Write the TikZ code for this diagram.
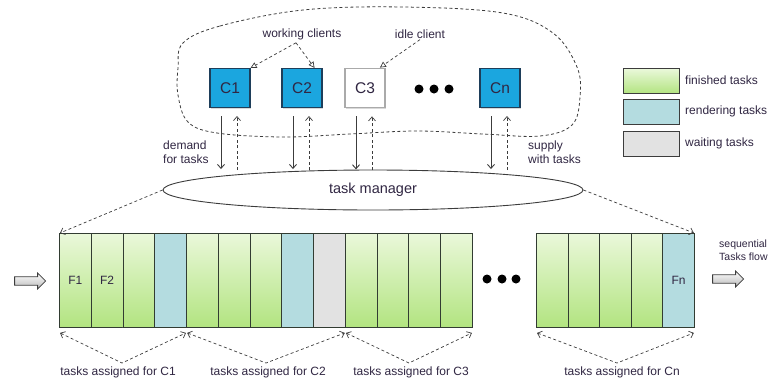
\documentclass[tikz,border=0pt]{standalone}
\usepackage{fontspec}
\setmainfont{Liberation Sans}
\usetikzlibrary{arrows.meta,shapes.arrows,shapes.geometric,shadows}

\definecolor{ink}{RGB}{48,38,66}
\definecolor{clientblue}{RGB}{27,166,223}
\definecolor{clientedge}{RGB}{30,62,90}
\definecolor{idlegray}{RGB}{170,170,170}
\definecolor{greentop}{RGB}{234,248,218}
\definecolor{greenbot}{RGB}{178,228,128}
\definecolor{busyblue}{RGB}{180,220,224}
\definecolor{waitgray}{RGB}{226,226,226}
\definecolor{celledge}{RGB}{50,60,50}
\definecolor{linegray}{RGB}{60,60,60}

\begin{document}
\begin{tikzpicture}[x=1pt,y=-1pt,
  txt/.style={text=ink, font=\fontsize{12}{13.5}\selectfont, inner sep=1pt},
  client/.style={draw=clientedge, fill=clientblue, line width=1.1pt,
    minimum width=40pt, minimum height=39pt, inner sep=0pt,
    font=\fontsize{15.5}{17}\selectfont, text=ink,
    drop shadow={shadow xshift=1pt, shadow yshift=-1pt, opacity=0.3}},
  idle/.style={client, draw=idlegray, fill=white, line width=1.8pt},
  cell/.style={draw=celledge, line width=0.9pt, minimum height=94pt,
    inner sep=0pt, anchor=north west, text=ink,
    font=\fontsize{12}{13.5}\selectfont},
  done/.style={cell, top color=greentop, bottom color=greenbot},
  busy/.style={cell, fill=busyblue},
  wait/.style={cell, fill=waitgray},
  legendbox/.style={draw=linegray, line width=1.2pt, minimum width=56pt,
    minimum height=25pt, inner sep=0pt, anchor=north west},
  dashline/.style={draw=linegray, line width=0.7pt, dash pattern=on 3pt off 2.5pt},
  barb/.style={-{Straight Barb[length=4pt,width=7pt]}},
  dbarb/.style={{Straight Barb[length=4pt,width=7pt]}-{Straight Barb[length=4pt,width=7pt]}},
  tri/.style={-{Triangle[open,length=6pt,width=6pt]}},
  demand/.style={draw=linegray, line width=0.9pt, barb},
  supply/.style={dashline, barb},
  flowarrow/.style={single arrow, draw=linegray, line width=0.8pt,
    top color=white, bottom color=gray!55, minimum height=31pt,
    minimum width=16pt, single arrow head extend=3.5pt, inner sep=3.5pt},
  dot/.style={circle, fill=black, minimum size=9pt, inner sep=0pt}
]
\useasboundingbox (0,0) rectangle (776,381);

% group of clients
\draw[dashline, line width=0.8pt] plot[smooth cycle, tension=0.6] coordinates {
  (183,43) (220,26) (303,10) (403,7) (503,13) (553,33) (577,67) (580,97)
  (572,125) (540,136) (483,134) (417,131) (350,134) (283,137) (217,133)
  (188,122) (178,95) (178,68)};

\node[client] (c1) at (230,88) {C1};
\node[client] (c2) at (302,88) {C2};
\node[idle]   (c3) at (365,88) {C3};
\node[client] (cn) at (500,88) {Cn};
\node[dot] (d1) at (419,89) {};
\node[dot] (d2) at (434,89) {};
\node[dot] (d3) at (449,89) {};

\node[txt] (wc) at (302,34) {working clients};
\node[txt] (ic) at (420,34) {idle client};
\draw[dashline, tri] (wc.south) ++(-6,2) -- (c1.north east);
\draw[dashline, tri] (wc.south) ++(-6,2) -- ([xshift=-8pt]c2.north east);
\draw[dashline, tri] (ic.south) -- ([xshift=-6pt]c3.north east);

% task manager
\node[ellipse, draw=linegray, line width=0.9pt, minimum width=420pt,
  minimum height=40pt, text=ink, font=\fontsize{14.5}{16}\selectfont]
  (tm) at (373,190) {task manager};

\foreach \c in {c1,c2,c3,cn}{
  \draw[demand] (\c.south) ++(-9,8) -- ++(0,53);
  \draw[supply] (\c.south) ++(7,62) -- ++(0,-54);
}

\node[txt, align=left, anchor=west] (dm) at (162,152) {demand\\for tasks};
\node[txt, align=left, anchor=west] (sp) at (527,152) {supply\\with tasks};

% legend
\node[legendbox, top color=greentop, bottom color=greenbot] (lg1) at (623,68) {};
\node[legendbox, fill=busyblue] (lg2) at (623,99) {};
\node[legendbox, fill=waitgray] (lg3) at (623,131) {};
\node[txt, anchor=west] at (684,80.5) {finished tasks};
\node[txt, anchor=west] at (684,111.5) {rendering tasks};
\node[txt, anchor=west] at (684,143.5) {waiting tasks};

% task strip
\foreach \k/\kind/\lab in {0/done/F1,1/done/F2,2/done/{},3/busy/{},4/done/{},
    5/done/{},6/done/{},7/busy/{},8/wait/{},9/done/{},10/done/{},11/done/{},12/done/{}}
  \node[\kind, minimum width=31.77pt] (a\k) at ({59+\k*31.77},233) {\lab};
\foreach \k/\kind/\lab in {0/done/{},1/done/{},2/done/{},3/done/{},4/busy/Fn}
  \node[\kind, minimum width=31.6pt] (b\k) at ({536+\k*31.6},233) {\lab};

\node[dot] (e1) at (487,279) {};
\node[dot] (e2) at (502,279) {};
\node[dot] (e3) at (516,279) {};

\draw[dashline, barb] (tm.west) -- ([xshift=1pt]a0.north west);
\draw[dashline, barb] (tm.east) -- ([xshift=-1pt]b4.north east);

% input and output of the flow
\node[flowarrow] (inarr) at (28,281) {};
\node[flowarrow] (outarr) at (726,279) {};
\node[txt, align=left, anchor=west, font=\fontsize{10.5}{12.5}\selectfont]
  (sq) at (718,250) {sequential\\Tasks flow};

% assignment of task ranges
\coordinate (v1) at (122,363);
\coordinate (v2) at (266,363);
\coordinate (v3) at (409,363);
\coordinate (v4) at (617,363);
\draw[dashline, dbarb] ([shift={(1pt,-5pt)}]a0.south west) -- (v1) -- ([shift={(-1pt,-5pt)}]a3.south east);
\draw[dashline, dbarb] ([shift={(1pt,-5pt)}]a4.south west) -- (v2) -- ([shift={(-1pt,-5pt)}]a8.south east);
\draw[dashline, dbarb] ([shift={(1pt,-5pt)}]a9.south west) -- (v3) -- ([shift={(-1pt,-5pt)}]a12.south east);
\draw[dashline, dbarb] ([shift={(1pt,-5pt)}]b0.south west) -- (v4) -- ([shift={(-1pt,-5pt)}]b4.south east);

\node[txt] (t1) at (118,372) {tasks assigned for C1};
\node[txt] (t2) at (268,372) {tasks assigned for C2};
\node[txt] (t3) at (411,372) {tasks assigned for C3};
\node[txt] (t4) at (622,372) {tasks assigned for Cn};
\end{tikzpicture}
\end{document}
